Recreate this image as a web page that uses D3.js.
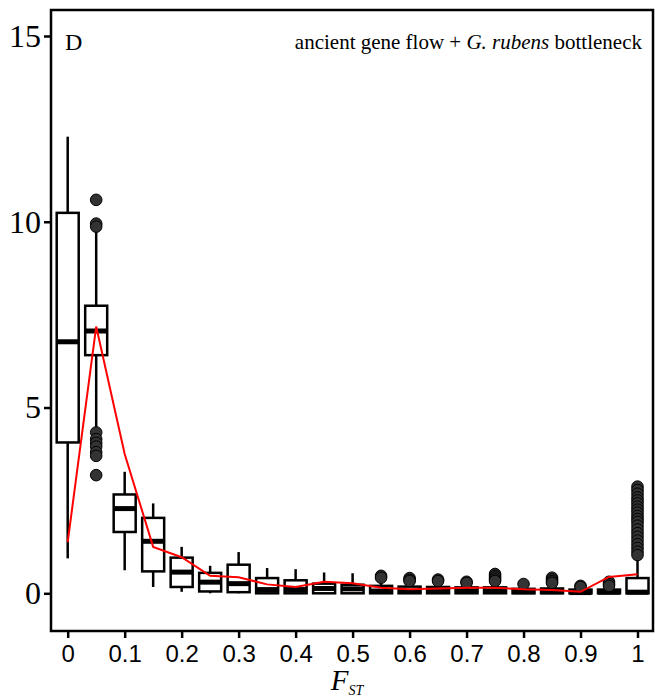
<!DOCTYPE html>
<html>
<head>
<meta charset="utf-8">
<script src="https://cdn.jsdelivr.net/npm/d3@7"></script>
<style>
  body { margin: 0; background: #fff; }
  svg text { fill: #000; }
</style>
</head>
<body>
<div id="chart"></div>
<script>
// FST bins (box positions)
var fstBins = [0, 0.05, 0.1, 0.15, 0.2, 0.25, 0.3, 0.35, 0.4, 0.45, 0.5,
  0.55, 0.6, 0.65, 0.7, 0.75, 0.8, 0.85, 0.9, 0.95, 1];
// box statistics per bin
var whiskerLow = [0.94, 4.45, 0.62, 0.17, 0.04, 0, 0, 0, 0, 0, 0,
  0, 0, 0, 0, 0, 0, 0, -0.03, 0, 0];
var q1 = [4.06, 6.41, 1.65, 0.59, 0.17, 0.05, 0.03, 0, 0, 0, 0,
  0, 0, 0, 0, 0, 0, 0, 0, 0, 0];
var median = [6.77, 7.06, 2.28, 1.40, 0.57, 0.30, 0.26, 0.10, 0.10, 0.13, 0.12,
  0.06, 0.05, 0.05, 0.05, 0.05, 0.04, 0.04, 0.02, 0.03, 0.03];
var q3 = [10.24, 7.74, 2.66, 2.03, 0.96, 0.55, 0.77, 0.41, 0.35, 0.26, 0.23,
  0.20, 0.18, 0.17, 0.16, 0.16, 0.12, 0.13, 0.10, 0.10, 0.41];
var whiskerHigh = [12.29, 9.87, 3.27, 2.42, 1.25, 0.74, 1.11, 0.68, 0.65, 0.56, 0.54,
  0.35, 0.30, 0.28, 0.25, 0.28, 0.20, 0.24, 0.15, 0.15, 0.98];
var outliers = [
  [],
  [10.59, 9.95, 9.87, 4.33, 4.15, 4.05, 3.95, 3.8, 3.7, 3.18],
  [], [], [], [], [], [], [], [], [],
  [0.47, 0.42],
  [0.41, 0.36, 0.33],
  [0.37, 0.33],
  [0.31, 0.28],
  [0.52, 0.47, 0.42, 0.37, 0.33],
  [0.25],
  [0.42, 0.37, 0.32, 0.28],
  [0.2, 0.17],
  [0.31, 0.25, 0.2],
  [2.87, 2.78, 2.68, 2.58, 2.5, 2.42, 2.33, 2.25, 2.17, 2.08, 2.0, 1.92,
    1.82, 1.72, 1.62, 1.52, 1.42, 1.32, 1.22, 1.12, 1.03]
];
// red line (observed)
var redLine = [1.38, 7.18, 3.75, 1.25, 0.97, 0.47, 0.43, 0.24, 0.17, 0.31, 0.27,
  0.15, 0.11, 0.13, 0.15, 0.15, 0.11, 0.09, 0.04, 0.44, 0.51];

var xTicks = [0, 0.1, 0.2, 0.3, 0.4, 0.5, 0.6, 0.7, 0.8, 0.9, 1];
var xTickLabels = ["0", "0.1", "0.2", "0.3", "0.4", "0.5", "0.6", "0.7", "0.8", "0.9", "1"];
var yTicks = [0, 5, 10, 15];

var width = 655, height = 697;
var panel = {left: 51, right: 653, top: 10, bottom: 631};
var serif = "'Liberation Serif', 'Times New Roman', serif";

var svg = d3.select("#chart").append("svg")
    .attr("width", width).attr("height", height);

var x = d3.scaleLinear().domain([0, 1]).range([67.7, 637.5]);
var y = d3.scaleLinear().domain([0, 15]).range([593.3, 36]);
var boxW = 22;

// y axis
var yAxis = svg.append("g")
    .attr("transform", "translate(" + panel.left + ",0)")
    .call(d3.axisLeft(y).tickValues(yTicks).tickSize(7).tickPadding(3));
yAxis.select(".domain").remove();
yAxis.selectAll("line").attr("stroke", "#000").attr("stroke-width", 2.5);
yAxis.selectAll("text")
    .attr("font-family", serif)
    .attr("font-size", 32).attr("fill", "#000");

// x axis
var xAxis = svg.append("g")
    .attr("transform", "translate(0," + panel.bottom + ")")
    .call(d3.axisBottom(x).tickValues(xTicks)
        .tickFormat(function(d, i) { return xTickLabels[i]; })
        .tickSize(7).tickPadding(7));
xAxis.select(".domain").remove();
xAxis.selectAll("line").attr("stroke", "#000").attr("stroke-width", 2.5);
xAxis.selectAll("text")
    .attr("font-family", "'Liberation Sans', Arial, sans-serif")
    .attr("font-size", 24).attr("fill", "#000");

// boxes
var g = svg.append("g");
for (var t = 0; t < fstBins.length; t++) {
  var cx = x(fstBins[t]);
  // whiskers
  g.append("line")
      .attr("x1", cx).attr("x2", cx)
      .attr("y1", y(q3[t])).attr("y2", y(whiskerHigh[t]))
      .attr("stroke", "#000").attr("stroke-width", 2.5);
  g.append("line")
      .attr("x1", cx).attr("x2", cx)
      .attr("y1", y(q1[t])).attr("y2", y(whiskerLow[t]))
      .attr("stroke", "#000").attr("stroke-width", 2.5);
  // box
  g.append("rect")
      .attr("x", cx - boxW / 2).attr("y", y(q3[t]))
      .attr("width", boxW).attr("height", Math.max(0, y(q1[t]) - y(q3[t])))
      .attr("fill", "#fff").attr("stroke", "#000").attr("stroke-width", 2.5);
  g.append("line")
      .attr("x1", cx - boxW / 2).attr("x2", cx + boxW / 2)
      .attr("y1", y(median[t])).attr("y2", y(median[t]))
      .attr("stroke", "#000").attr("stroke-width", 5);
  // outliers
  g.selectAll(null).data(outliers[t]).enter().append("circle")
      .attr("cx", cx).attr("cy", function(d) { return y(d); })
      .attr("r", 5.8)
      .attr("fill", "#333").attr("stroke", "#000").attr("stroke-width", 1);
}

// red line
var line = d3.line()
    .x(function(d, i) { return x(fstBins[i]); })
    .y(function(d) { return y(d); });
svg.append("path").datum(redLine)
    .attr("d", line).attr("fill", "none")
    .attr("stroke", "#ff0000").attr("stroke-width", 2);

// panel frame
svg.append("rect")
    .attr("x", panel.left).attr("y", panel.top)
    .attr("width", panel.right - panel.left)
    .attr("height", panel.bottom - panel.top)
    .attr("fill", "none").attr("stroke", "#000").attr("stroke-width", 2.5);

// panel label and title
svg.append("text").text("D")
    .attr("x", 65).attr("y", 50)
    .attr("font-family", serif)
    .attr("font-size", 24);
var title = svg.append("text")
    .attr("x", 642).attr("y", 49).attr("text-anchor", "end")
    .attr("font-family", serif)
    .attr("font-size", 21);
title.append("tspan").text("ancient gene flow + ");
title.append("tspan").attr("font-style", "italic").text("G. rubens");
title.append("tspan").text(" bottleneck");

// x axis title
var xt = svg.append("text")
    .attr("x", 347).attr("y", 690).attr("text-anchor", "middle")
    .attr("font-family", serif)
    .attr("font-style", "italic");
xt.append("tspan").attr("font-size", 29).text("F");
xt.append("tspan").attr("font-size", 14).attr("dy", 5).text("ST");
</script>
</body>
</html>
